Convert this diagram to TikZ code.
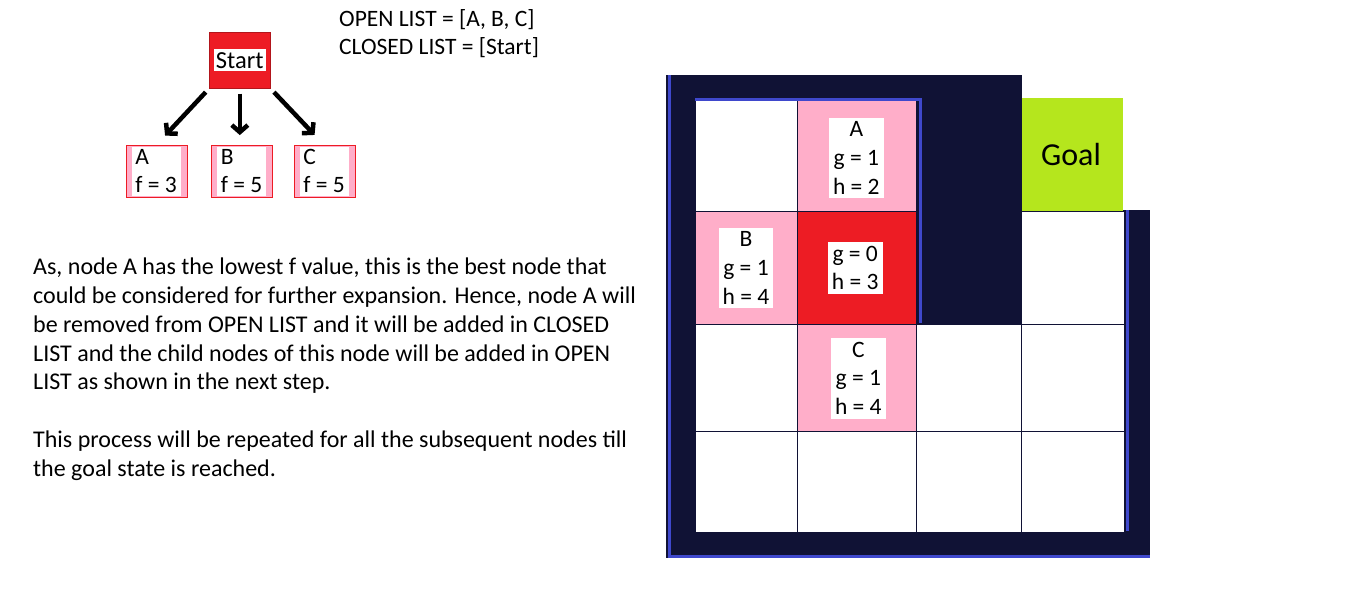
\documentclass[tikz,border=0pt]{standalone}
\usepackage{fontspec}
\setmainfont{Carlito}
\usetikzlibrary{arrows.meta,positioning}
\definecolor{startred}{HTML}{ED1C24}
\definecolor{openpink}{HTML}{FFAEC9}
\definecolor{wallnavy}{HTML}{101235}
\definecolor{edgeblue}{HTML}{3F48CC}
\definecolor{goalgreen}{HTML}{B5E61D}
\begin{document}
\begin{tikzpicture}[x=1pt,y=-1pt,
  every node/.style={font=\fontsize{23.5}{28.75}\selectfont, inner sep=0pt},
  startbox/.style={draw=startred!75!black, fill=startred, minimum width=61pt, minimum height=56pt},
  kid/.style={draw=startred, fill=openpink, minimum width=61pt, minimum height=52pt},
  kidtext/.style={fill=white, minimum width=49pt, minimum height=49pt, align=left, font=\fontsize{23.5}{28}\selectfont},
  tag/.style={fill=white, align=center, inner xsep=4pt, inner ysep=4pt},
  expand/.style={line width=4.5pt, -{Straight Barb[length=7pt,width=16pt]}},
  wall/.style={edgeblue, line width=3pt}]
  \useasboundingbox (0,0) rectangle (1360,605);

  % search tree
  \node[startbox] (start) at (239.8,60.3) {};
  \node[fill=white, inner xsep=2pt, inner ysep=3pt, font=\fontsize{24.5}{28}\selectfont] (starttext) at (start) {Start};
  \node[kid] (fA) at (156.2,171.3) {};
  \node[kid] (fB) at (241.7,171.3) {};
  \node[kid] (fC) at (324.2,171.3) {};
  \node[kidtext] at (fA) {A\\f = 3};
  \node[kidtext] at (fB) {B\\f = 5};
  \node[kidtext] at (fC) {C\\f = 5};
  \draw[expand, shorten <=5pt, shorten >=13pt] (start.south west) -- (fA.north);
  \draw[expand, shorten <=5pt, shorten >=10pt] (start.south) -- (start.south |- fB.north);
  \draw[expand, shorten <=5pt, shorten >=14pt] (start.south east) -- (fC.north);

  \node[anchor=north west, align=left] (lists) at (339,9) {OPEN LIST = [A, B, C]\\CLOSED LIST = [Start]};

  \node[anchor=north west, align=left, font=\fontsize{24}{28.75}\selectfont] (note) at (33,258)
    {As, node A has the lowest f value, this is the best node that\\
     could be considered for further expansion. Hence, node A will\\
     be removed from OPEN LIST and it will be added in CLOSED\\
     LIST and the child nodes of this node will be added in OPEN\\
     LIST as shown in the next step.\\[28.75pt]
     This process will be repeated for all the subsequent nodes till\\
     the goal state is reached.};

  % grid world
  \fill[wallnavy] (666,75) rectangle (1150,558);
  \fill[white] (1021.7,74) rectangle (1151,210);
  \fill[goalgreen] (1021.7,98) rectangle (1122.7,211);
  \foreach \xa/\xb/\ya/\yb/\c in {
      695/797/99/211/white, 797/916.5/99/211/openpink,
      695/797/211/324/openpink, 797/916.5/211/324/startred, 1021.7/1124/211/324/white,
      695/797/324/431/white, 797/916.5/324/431/openpink, 916.5/1021.7/324/431/white, 1021.7/1124/324/431/white,
      695/797/431/532/white, 797/916.5/431/532/white, 916.5/1021.7/431/532/white, 1021.7/1124/431/532/white}
    \filldraw[fill=\c, draw=wallnavy, line width=1pt] (\xa,\ya) rectangle (\xb,\yb);
  \draw[wall] (669,75) -- (669,556) -- (1150,556);
  \draw[wall] (695,99) -- (920,99) -- (920,323);
  \draw[wall] (1127,210) -- (1127,531);

  \node[tag] (tagA) at (856.3,158) {A\\g = 1\\h = 2};
  \node[tag] (tagB) at (746,268) {B\\g = 1\\h = 4};
  \node[tag] (tagS) at (855.2,268) {g = 0\\h = 3};
  \node[tag] (tagC) at (858.3,378.3) {C\\g = 1\\h = 4};
  \node[font=\fontsize{32}{38}\selectfont] (goal) at (1071,155) {Goal};
\end{tikzpicture}
\end{document}
